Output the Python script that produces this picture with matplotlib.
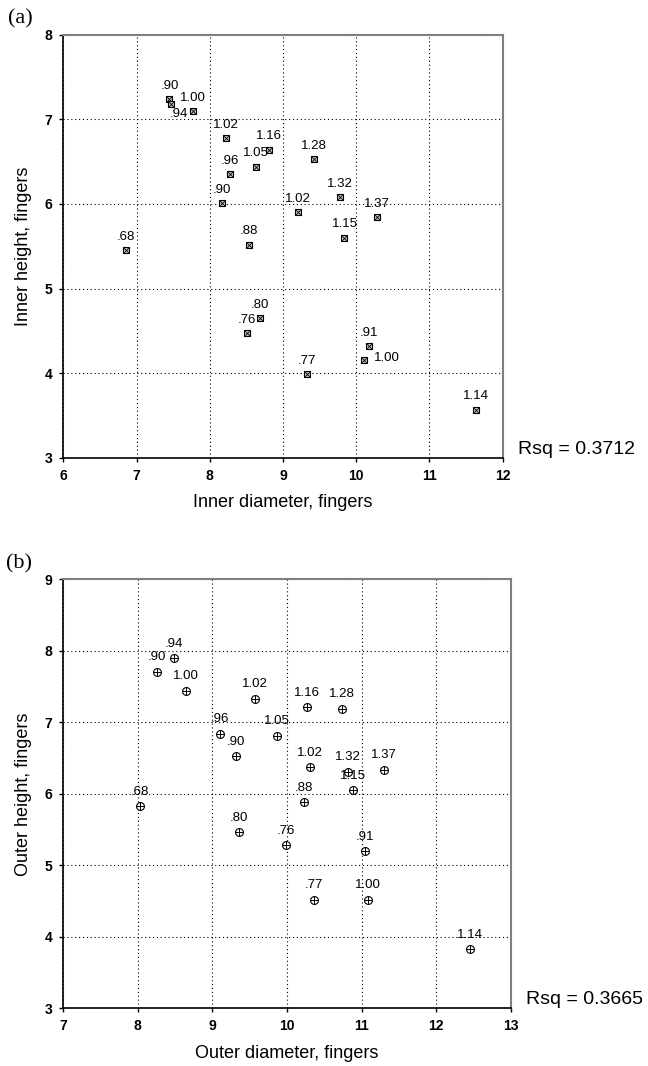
import matplotlib
matplotlib.use('Agg')
import matplotlib.pyplot as plt

plt.rcParams['font.family'] = ['Liberation Sans', 'DejaVu Sans']

# panel (a): inner dimensions
inner_diam = [7.45, 7.47, 7.77, 8.22, 8.81, 8.63, 8.28, 8.17, 6.85, 8.53,
              9.42, 9.78, 9.20, 10.28, 9.84, 8.68, 8.51, 10.18, 10.11, 9.33, 11.63]
inner_height = [7.24, 7.18, 7.10, 6.78, 6.64, 6.44, 6.35, 6.01, 5.45, 5.52,
                6.53, 6.08, 5.90, 5.84, 5.60, 4.65, 4.47, 4.32, 4.16, 3.99, 3.57]
inner_lab = ['.90', '.94', '1.00', '1.02', '1.16', '1.05', '.96', '.90', '.68', '.88',
             '1.28', '1.32', '1.02', '1.37', '1.15', '.80', '.76', '.91', '1.00', '.77', '1.14']
rsq_a = 'Rsq = 0.3712'

# panel (b): outer dimensions
outer_diam = [8.49, 8.26, 8.64, 9.57, 10.27, 10.74, 9.87, 9.10, 9.32, 10.31,
              10.82, 11.30, 10.88, 8.03, 10.23, 9.36, 9.98, 11.04, 10.36, 11.08, 12.45]
outer_height = [7.90, 7.71, 7.44, 7.33, 7.21, 7.19, 6.81, 6.84, 6.53, 6.37,
                6.31, 6.34, 6.05, 5.83, 5.88, 5.46, 5.28, 5.20, 4.52, 4.52, 3.83]
outer_lab = ['.94', '.90', '1.00', '1.02', '1.16', '1.28', '1.05', '.96', '.90', '1.02',
             '1.32', '1.37', '1.15', '.68', '.88', '.80', '.76', '.91', '.77', '1.00', '1.14']
rsq_b = 'Rsq = 0.3665'

# label offsets in points (default: centred above the marker)
off_a = {1: (5.5, -7), 18: (16, 1.2)}
off_b = {}

fig = plt.figure(figsize=(6.48, 10.66), dpi=100)


def panel(rect, x, y, labs, offs, xlim, ylim, xlabel, ylabel, tag, rsq, kind):
    ax = fig.add_axes(rect)
    if kind == 'a':
        ax.scatter(x, y, marker='s', s=24, facecolor='#c8c8c8', edgecolor='black',
                   linewidth=0.8, zorder=3)
        ax.scatter(x, y, marker='x', s=11, color='black', linewidth=0.6, zorder=4)
        up = 9.6
    else:
        ax.scatter(x, y, marker='o', s=32, facecolor='white', edgecolor='black',
                   linewidth=0.8, zorder=3)
        ax.scatter(x, y, marker='+', s=32, color='black', linewidth=0.7, zorder=4)
        up = 10.4
    for i, (xi, yi, t) in enumerate(zip(x, y, labs)):
        dx, dy = offs.get(i, (0, up))
        ax.annotate(t, (xi, yi), xytext=(dx, dy), textcoords='offset points',
                    ha='center', va='center', fontsize=9.5, zorder=5)
    ax.set_xlim(*xlim)
    ax.set_ylim(*ylim)
    ax.set_xticks(range(xlim[0], xlim[1] + 1))
    ax.set_yticks(range(ylim[0], ylim[1] + 1))
    ax.grid(True, linestyle=(0, (1, 2.5)), color='black', linewidth=0.8)
    for s in ('left', 'bottom'):
        ax.spines[s].set_color('black')
        ax.spines[s].set_linewidth(1.2)
    for s in ('top', 'right'):
        ax.spines[s].set_color('#808080')
        ax.spines[s].set_linewidth(1.5)
    ax.tick_params(direction='out', length=3, width=1, pad=5, labelsize=10)
    for lb in ax.get_xticklabels() + ax.get_yticklabels():
        lb.set_fontweight('bold')
    ax.set_xlabel(xlabel, fontsize=13, labelpad=8)
    ax.set_ylabel(ylabel, fontsize=13, labelpad=9)
    ax.text(-0.127, 1.037, tag, transform=ax.transAxes, fontsize=16,
            family='Liberation Serif', ha='left', va='center')
    ax.text(1.035, 0.02, rsq, transform=ax.transAxes, fontsize=14,
            ha='left', va='center')
    return ax


panel([0.0977, 0.5706, 0.678, 0.3968], inner_diam, inner_height, inner_lab, off_a,
      (6, 12), (3, 8), 'Inner diameter, fingers', 'Inner height, fingers', '(a)', rsq_a, 'a')
panel([0.0977, 0.0541, 0.6904, 0.4024], outer_diam, outer_height, outer_lab, off_b,
      (7, 13), (3, 9), 'Outer diameter, fingers', 'Outer height, fingers', '(b)', rsq_b, 'b')

fig.savefig('out.png', dpi=100)
